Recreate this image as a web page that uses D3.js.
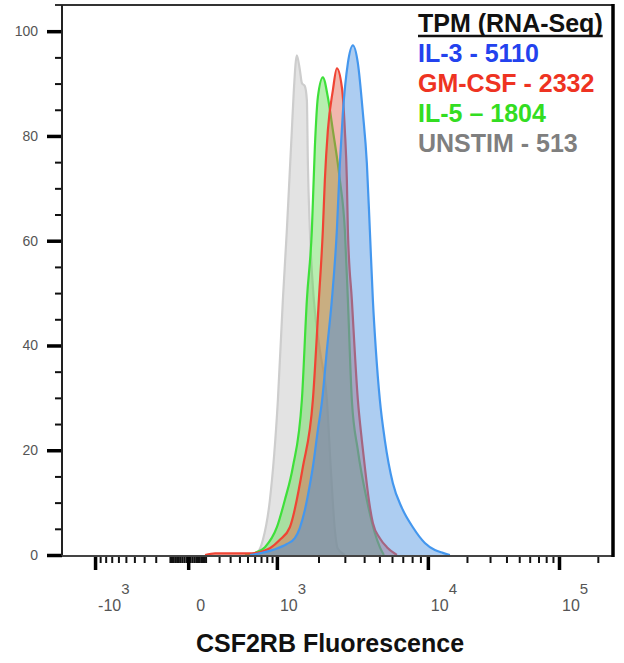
<!DOCTYPE html>
<html>
<head>
<meta charset="utf-8">
<script src="https://cdn.jsdelivr.net/npm/d3@7"></script>
<style>
  body { margin: 0; background: #fff; }
  svg { display: block; font-family: "Liberation Sans", Arial, Helvetica, sans-serif; }
</style>
</head>
<body>
<svg id="chart" width="624" height="663"></svg>
<script>
// CSF2RB histogram overlay (% of max) on a biexponential fluorescence axis

// UNSTIM
const unstimX = [533, 650, 732, 858, 1018, 1111, 1190, 1253, 1296, 1340, 1409, 1481, 1531, 1608, 1661, 1688, 1743, 1858, 2043, 2279, 2425, 2578, 2686, 3001];
const unstimY = [0, 0.6, 2.9, 10.5, 29.6, 48.7, 62.0, 73.5, 81.1, 88.7, 95.4, 92.6, 90.1, 89.5, 86.8, 74.8, 62.0, 48.7, 39.1, 29.6, 16.2, 4.8, 1.3, 0];

// IL-5
const il5X = [467, 605, 767, 1000, 1150, 1318, 1531, 1661, 1800, 1888, 1980, 2141, 2315, 2500, 2783, 3001, 3140, 3333, 3645, 4163, 4680, 5033, 5333];
const il5Y = [0, 0.4, 1.5, 5.3, 10.5, 16.8, 29.6, 48.7, 62.0, 77.9, 87.4, 91.2, 87.4, 81.1, 71.6, 62.0, 48.7, 29.6, 20.0, 10.5, 4.2, 1.5, 0];

// GM-CSF
const gmcsfX = [97, 168, 533, 715, 858, 1054, 1253, 1556, 1829, 2011, 2141, 2209, 2315, 2500, 2658, 2868, 3001, 3093, 3140, 3333, 3645, 3867, 4042, 4287, 4546, 5033, 5571, 6434];
const gmcsfY = [0, 0.3, 0.3, 0.67, 1.3, 2.9, 5.3, 16.8, 29.6, 48.7, 62.0, 71.6, 81.1, 88.7, 92.9, 89.3, 81.1, 71.6, 62.0, 48.7, 29.6, 21.9, 16.8, 10.5, 6.1, 3.2, 1.5, 0];

// IL-3
const il3X = [533, 715, 958, 1190, 1363, 1481, 1608, 1743, 1829, 1980, 2118, 2279, 2462, 2658, 2783, 2912, 3140, 3384, 3645, 3925, 4163, 4350, 4546, 4750, 5033, 5412, 6075, 6913, 8085, 9583, 11330, 13065, 14790];
const il3Y = [0, 0.4, 1.1, 2.1, 3.2, 5.2, 8.6, 13.4, 16.8, 23.9, 29.6, 39.1, 48.7, 62.0, 74.8, 84.4, 93.9, 97.3, 93.9, 84.4, 74.8, 62.0, 48.7, 39.1, 29.6, 21.9, 13.7, 9.0, 5.3, 2.3, 0.95, 0.4, 0];

const legendTitle = "TPM (RNA-Seq)";
const legendLabels = ["IL-3 - 5110", "GM-CSF - 2332", "IL-5 \u2013 1804", "UNSTIM - 513"];

const yMajorTicks = [0, 20, 40, 60, 80, 100];
const xMajorTicks = [-1000, 0, 1000, 10000, 100000];
const xMajorBase = ["-10", "0", "10", "10", "10"];
const xMajorExp = ["3", "", "3", "4", "5"];
const xTitle = "CSF2RB Fluorescence";

// drawing order: bottom to top
const series = [
  { x: unstimX, y: unstimY, fill: "#c8c8c8", fillOp: 0.5, stroke: "#cdcdcd" },
  { x: il5X, y: il5Y, fill: "#5fd94f", fillOp: 0.45, stroke: "#3ee03a" },
  { x: gmcsfX, y: gmcsfY, fill: "#e0604a", fillOp: 0.45, stroke: "#f04434" },
  { x: il3X, y: il3Y, fill: "#4a90e0", fillOp: 0.45, stroke: "#4497ee" }
];
const legendColors = ["#2342ee", "#ee3322", "#33dd22", "#7f7f7f"];

const margin = { top: 5, right: 11, bottom: 108, left: 62 };
const width = 624 - margin.left - margin.right;
const height = 663 - margin.top - margin.bottom;

const svg = d3.select("#chart");
const g = svg.append("g")
    .attr("transform", "translate(" + margin.left + "," + margin.top + ")");

// logicle-like axis, calibrated at the decade marks
const xScale = d3.scaleSymlog()
    .constant(300)
    .domain([-1700, -1000, 0, 1000, 10000, 100000, 262143])
    .range([0, 0.06, 0.229, 0.39, 0.664, 0.902, 1].map(f => f * width));

const yScale = d3.scaleLinear()
    .domain([0, 105])
    .range([height, 0]);

svg.append("defs").append("clipPath").attr("id", "plotclip")
    .append("rect").attr("width", width).attr("height", height);

const area = d3.area()
    .x(d => xScale(d[0]))
    .y0(yScale(0))
    .y1(d => yScale(d[1]))
    .curve(d3.curveMonotoneX);

const line = d3.line()
    .x(d => xScale(d[0]))
    .y(d => yScale(d[1]))
    .curve(d3.curveMonotoneX);

const plot = g.append("g").attr("clip-path", "url(#plotclip)");

series.forEach(s => {
    const pts = d3.zip(s.x, s.y);
    plot.append("path")
        .datum(pts)
        .attr("d", area)
        .attr("fill", s.fill)
        .attr("fill-opacity", s.fillOp);
    plot.append("path")
        .datum(pts)
        .attr("d", line)
        .attr("fill", "none")
        .attr("stroke", s.stroke)
        .attr("stroke-width", 2.2)
        .attr("stroke-linejoin", "round");
});

// minor ticks, FlowJo style
const xMinor = [];
[10, 100].forEach(p => d3.range(1, 10).forEach(k => { xMinor.push(k * p); xMinor.push(-k * p); }));
[1000, 10000].forEach(p => d3.range(2, 10).forEach(k => xMinor.push(k * p)));
xMinor.push(200000);
const yMinor = d3.range(5, 105, 5).filter(v => v % 20 !== 0);

const xMinorAxis = g.append("g")
    .attr("transform", "translate(0," + height + ")")
    .call(d3.axisBottom(xScale).tickValues(xMinor).tickSize(8).tickFormat(() => ""));
const xMajorAxis = g.append("g")
    .attr("transform", "translate(0," + height + ")")
    .call(d3.axisBottom(xScale).tickValues(xMajorTicks).tickSize(15).tickFormat(() => ""));

const yMinorAxis = g.append("g")
    .call(d3.axisLeft(yScale).tickValues(yMinor).tickSize(7).tickFormat(() => ""));
const yMajorAxis = g.append("g")
    .call(d3.axisLeft(yScale).tickValues(yMajorTicks).tickSize(15).tickPadding(9));

[xMinorAxis, xMajorAxis, yMinorAxis, yMajorAxis].forEach(a => a.select(".domain").remove());
[xMinorAxis, yMinorAxis].forEach(a => a.selectAll("line").attr("stroke", "#111").attr("stroke-width", 2));
[xMajorAxis, yMajorAxis].forEach(a => a.selectAll("line").attr("stroke", "#000").attr("stroke-width", 3.5));

yMajorAxis.selectAll("text")
    .attr("font-size", 14)
    .attr("fill", "#555")
    .attr("font-family", "'Liberation Sans', Arial, sans-serif");

// x labels with superscript exponents
const xLab = g.append("g").selectAll("text")
    .data(xMajorTicks)
    .join("text")
    .attr("x", (d, i) => xScale(d) + (xMajorExp[i] ? 3 : 8))
    .attr("y", height + 56)
    .attr("fill", "#555")
    .attr("font-size", 16);
xLab.append("tspan").text((d, i) => xMajorBase[i]);
xLab.append("tspan")
    .attr("dy", -17)
    .attr("font-size", 15)
    .text((d, i) => xMajorExp[i]);

// frame
g.append("line").attr("x1", -7).attr("x2", width).attr("y1", 0).attr("y2", 0)
    .attr("stroke", "#333").attr("stroke-width", 2);
g.append("line").attr("x1", 0).attr("x2", 0).attr("y1", 0).attr("y2", height + 1)
    .attr("stroke", "#222").attr("stroke-width", 2);
g.append("line").attr("x1", 0).attr("x2", width).attr("y1", height + 1).attr("y2", height + 1)
    .attr("stroke", "#444").attr("stroke-width", 2);
g.append("line").attr("x1", width).attr("x2", width).attr("y1", -1).attr("y2", height + 2)
    .attr("stroke", "#000").attr("stroke-width", 3.5);

// legend
const legend = svg.append("g").attr("transform", "translate(418,32)")
    .attr("font-weight", "bold").attr("font-size", 25);
const head = legend.append("text").attr("fill", "#111").text(legendTitle);
const headW = head.node().getComputedTextLength();
legend.append("line").attr("x1", 0).attr("x2", headW).attr("y1", 4).attr("y2", 4)
    .attr("stroke", "#111").attr("stroke-width", 2.5);
legend.selectAll(".entry")
    .data(legendLabels)
    .join("text")
    .attr("class", "entry")
    .attr("y", (d, i) => 30 * (i + 1))
    .attr("fill", (d, i) => legendColors[i])
    .text(d => d);

// axis title
svg.append("text")
    .attr("x", 330)
    .attr("y", 652)
    .attr("text-anchor", "middle")
    .attr("font-weight", "bold")
    .attr("font-size", 25)
    .attr("fill", "#111")
    .text(xTitle);
</script>
</body>
</html>
